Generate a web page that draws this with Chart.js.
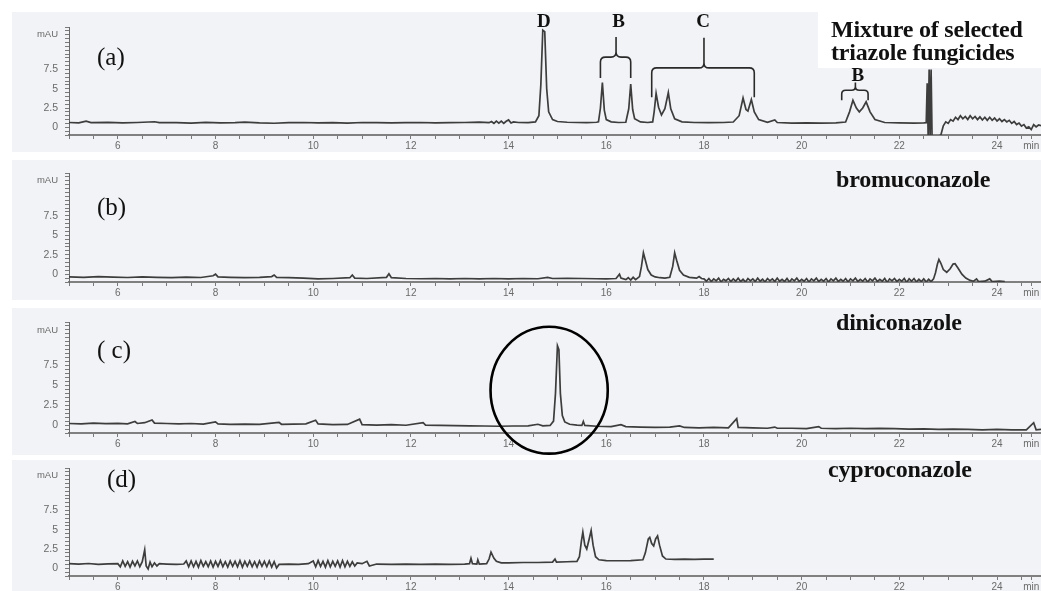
<!DOCTYPE html>
<html>
<head>
<meta charset="utf-8">
<script src="https://cdn.jsdelivr.net/npm/chart.js@4.4.1/dist/chart.umd.min.js"></script>
<style>
  html, body { margin: 0; padding: 0; }
  body { width: 1041px; height: 591px; overflow: hidden; background: #ffffff; position: relative; }
  .bg { position: absolute; background: #f2f3f6; }
  .wrap { position: absolute; left: 0; width: 1041px; }
  .wrap canvas { display: block; }
  .tag { position: absolute; font-family: "Liberation Serif", "DejaVu Serif", serif; color: #111; white-space: nowrap; }
  .panel-id { font-size: 25px; line-height: 25px; }
  .compound { font-size: 24px; line-height: 24px; font-weight: bold; letter-spacing: -0.2px; }
</style>
</head>
<body>
<!-- panel backgrounds -->
<div class="bg" style="left:12px;top:12px;width:1029px;height:140px"></div>
<div class="bg" style="left:12px;top:160px;width:1029px;height:140px"></div>
<div class="bg" style="left:12px;top:308px;width:1029px;height:147px"></div>
<div class="bg" style="left:12px;top:460px;width:1029px;height:131px"></div>
<div style="position:absolute;left:818px;top:0;width:223px;height:68px;background:#ffffff"></div>

<div class="wrap" style="top:0;height:157px"><canvas id="chartA" width="1041" height="157"></canvas></div>
<div class="wrap" style="top:146px;height:158px"><canvas id="chartB" width="1041" height="158"></canvas></div>
<div class="wrap" style="top:295px;height:160px"><canvas id="chartC" width="1041" height="160"></canvas></div>
<div class="wrap" style="top:441px;height:157px"><canvas id="chartD" width="1041" height="157"></canvas></div>

<div class="tag panel-id" style="left:97px;top:44px">(a)</div>
<div class="tag panel-id" style="left:97px;top:194px">(b)</div>
<div class="tag panel-id" style="left:97px;top:337px">( c)</div>
<div class="tag panel-id" style="left:107px;top:466px">(d)</div>

<div class="tag compound" style="left:831px;top:17px">Mixture of selected</div>
<div class="tag compound" style="left:831px;top:40px">triazole fungicides</div>
<div class="tag compound" style="left:836px;top:167px">bromuconazole</div>
<div class="tag compound" style="left:836px;top:310px">diniconazole</div>
<div class="tag compound" style="left:828px;top:457px">cyproconazole</div>

<script>
// Retention time (min) and absorbance (mAU) pairs for each chromatogram
const traceMixture = [
  [5.0,0.62],[5.2,0.58],[5.35,0.8],[5.45,0.6],[5.8,0.63],[6.1,0.57],[6.4,0.62],[6.75,0.72],[6.85,0.6],
  [7.2,0.6],[7.5,0.55],[7.8,0.63],[8.1,0.58],[8.4,0.6],[8.6,0.68],[8.9,0.56],[9.2,0.52],[9.5,0.6],
  [9.8,0.62],[10.1,0.58],[10.4,0.6],[10.7,0.55],[11.0,0.62],[11.3,0.6],[11.6,0.56],[11.9,0.6],
  [12.2,0.62],[12.5,0.58],[12.8,0.6],[13.1,0.62],[13.4,0.66],[13.6,0.6],[13.65,0.75],[13.7,0.5],
  [13.75,0.8],[13.8,0.55],[13.85,0.8],[13.9,0.5],[13.95,0.78],[14.0,0.95],[14.05,0.55],[14.1,0.7],
  [14.2,0.62],[14.4,0.6],
  [14.55,0.7],[14.62,1.5],[14.66,5.5],[14.7,12.6],[14.74,12.4],[14.78,5.0],[14.82,2.0],[14.9,1.0],
  [15.0,0.75],[15.2,0.65],[15.4,0.62],[15.6,0.6],[15.8,0.65],
  [15.84,0.7],[15.88,2.5],[15.92,5.8],[15.96,2.2],[16.0,1.0],[16.1,0.7],[16.25,0.62],[16.4,0.65],
  [16.46,2.4],[16.5,5.6],[16.54,2.3],[16.58,1.1],[16.7,0.7],[16.85,0.62],[16.95,0.7],
  [16.98,2.0],[17.02,4.4],[17.07,2.6],[17.13,1.6],[17.2,2.4],[17.27,4.5],[17.32,2.4],[17.4,1.1],
  [17.55,0.7],[17.8,0.62],[18.1,0.6],[18.4,0.62],[18.6,0.68],
  [18.72,1.5],[18.8,3.8],[18.86,2.3],[18.9,2.1],[18.97,3.6],[19.03,2.0],[19.12,1.0],[19.3,0.65],
  [19.45,0.95],[19.5,0.62],[19.8,0.55],[20.1,0.58],[20.4,0.55],[20.7,0.58],[20.9,0.68],
  [20.98,2.0],[21.05,3.5],[21.12,2.5],[21.18,2.0],[21.25,2.5],[21.32,3.3],[21.4,2.0],[21.5,1.0],
  [21.7,0.62],[22.0,0.58],[22.3,0.55],[22.5,0.58],
  [22.55,0.6],[22.57,5.7],[22.59,-1.3],[22.61,7.5],[22.63,-1.3],[22.65,7.5],[22.67,-1.3],
  [22.75,-1.3],[22.85,-1.0],
  [22.9,0.2],[22.95,0.7],[23.0,0.5],[23.05,1.0],[23.1,0.8],[23.15,1.3],[23.2,1.0],[23.25,1.5],
  [23.3,1.1],[23.35,1.4],[23.4,1.0],[23.45,1.5],[23.5,1.1],[23.55,1.4],[23.6,1.0],[23.65,1.35],
  [23.7,0.95],[23.75,1.3],[23.8,0.9],[23.85,1.3],[23.9,0.9],[23.95,1.2],[24.0,0.8],[24.05,1.1],
  [24.1,0.75],[24.15,1.0],[24.2,0.7],[24.25,0.9],[24.3,0.5],[24.35,0.75],[24.4,0.35],[24.45,0.55],
  [24.5,0.15],[24.55,0.35],[24.6,-0.1],[24.65,0.05],[24.7,-0.3],[24.75,0.35],[24.8,0.05],
  [24.85,0.3],[24.9,0.2]
];

const traceBromuconazole = [
  [5.0,-0.35],[5.3,-0.4],[5.6,-0.3],[5.9,-0.38],[6.2,-0.42],[6.5,-0.35],[6.8,-0.4],[7.1,-0.45],
  [7.4,-0.38],[7.7,-0.42],[7.95,-0.2],[8.0,0.0],[8.05,-0.35],[8.3,-0.4],[8.6,-0.45],[8.9,-0.4],
  [9.15,-0.3],[9.2,-0.1],[9.25,-0.4],[9.5,-0.45],[9.8,-0.5],[10.1,-0.6],[10.4,-0.55],[10.75,-0.45],
  [10.8,-0.1],[10.85,-0.5],[11.1,-0.55],[11.5,-0.4],[11.55,0.05],[11.6,-0.45],[11.9,-0.55],
  [12.2,-0.58],[12.5,-0.55],[12.8,-0.6],[13.1,-0.55],[13.4,-0.6],[13.7,-0.55],[14.0,-0.6],
  [14.3,-0.55],[14.6,-0.58],[14.8,-0.4],[14.9,-0.55],[15.2,-0.52],[15.5,-0.55],[15.8,-0.58],
  [16.0,-0.6],[16.2,-0.55],[16.27,0.0],[16.3,-0.5],[16.4,-0.7],[16.45,-0.45],[16.5,-0.75],
  [16.55,-0.4],[16.6,-0.7],
  [16.68,-0.3],[16.72,1.0],[16.76,2.75],[16.8,1.8],[16.85,0.6],[16.92,-0.1],[17.0,-0.35],
  [17.1,-0.45],[17.2,-0.5],[17.3,-0.4],
  [17.36,1.0],[17.4,2.75],[17.44,1.8],[17.5,0.5],[17.58,-0.1],[17.7,-0.4],[17.85,-0.5],
  [17.9,-0.3],[17.95,-0.55],
  [18.0,-0.6],[18.05,-0.9],[18.1,-0.55],[18.15,-0.95],[18.2,-0.6],[18.25,-0.85],[18.3,-0.5],
  [18.35,-1.0],[18.4,-0.65],[18.45,-0.85],[18.5,-0.55],[18.55,-0.95],[18.6,-0.6],[18.65,-0.9],
  [18.7,-0.5],[18.75,-0.95],[18.8,-0.65],[18.85,-1.0],[18.9,-0.55],[18.95,-0.85],[19.0,-0.6],
  [19.05,-0.95],[19.1,-0.5],[19.15,-0.9],[19.2,-0.65],[19.25,-1.0],[19.3,-0.55],[19.35,-0.85],
  [19.4,-0.6],[19.45,-0.95],[19.5,-0.5],[19.55,-0.9],[19.6,-0.65],[19.65,-0.95],[19.7,-0.55],
  [19.75,-1.0],[19.8,-0.6],[19.85,-0.85],[19.9,-0.5],[19.95,-0.95],[20.0,-0.65],[20.05,-0.9],
  [20.1,-0.55],[20.15,-1.0],[20.2,-0.6],[20.25,-0.85],[20.3,-0.5],[20.35,-0.95],[20.4,-0.65],
  [20.45,-0.9],[20.5,-0.55],[20.55,-1.0],[20.6,-0.6],[20.65,-0.85],[20.7,-0.5],[20.75,-0.95],
  [20.8,-0.65],[20.85,-0.9],[20.9,-0.55],[20.95,-1.0],[21.0,-0.6],[21.05,-0.85],[21.1,-0.5],
  [21.15,-0.95],[21.2,-0.65],[21.25,-0.9],[21.3,-0.55],[21.35,-1.0],[21.4,-0.6],[21.45,-0.85],
  [21.5,-0.5],[21.55,-0.95],[21.6,-0.65],[21.65,-0.9],[21.7,-0.55],[21.75,-1.05],[21.8,-0.6],
  [21.85,-0.85],[21.9,-0.55],[21.95,-0.95],[22.0,-0.65],[22.05,-0.9],[22.1,-0.55],[22.15,-1.05],
  [22.2,-0.6],[22.25,-0.9],[22.3,-0.55],[22.35,-1.0],[22.4,-0.65],[22.45,-0.95],[22.5,-0.6],
  [22.55,-1.0],[22.6,-0.65],[22.65,-0.95],[22.7,-0.6],
  [22.74,0.2],[22.78,1.3],[22.81,1.9],[22.85,1.4],[22.9,0.6],[22.97,0.25],[23.04,0.7],
  [23.1,1.3],[23.14,1.34],[23.2,0.8],[23.28,0.0],[23.36,-0.5],[23.45,-0.8],[23.52,-0.9],
  [23.58,-0.6],[23.62,-0.95],[23.75,-0.9],[23.85,-0.6],[23.9,-0.95],[24.05,-0.9],[24.16,-0.95]
];

const traceDiniconazole = [
  [5.0,0.2],[5.25,0.15],[5.5,0.25],[5.75,0.18],[6.0,0.22],[6.2,0.15],[6.35,0.45],[6.4,0.2],
  [6.55,0.3],[6.7,0.65],[6.75,0.25],[7.0,0.2],[7.25,0.15],[7.5,0.2],[7.75,0.12],[8.0,0.4],
  [8.05,0.15],[8.3,0.1],[8.6,0.12],[8.9,0.08],[9.3,0.35],[9.35,0.1],[9.6,0.12],[9.85,0.15],
  [10.05,0.6],[10.1,0.15],[10.4,0.05],[10.7,0.08],[10.95,0.75],[11.0,0.05],[11.3,0.0],
  [11.6,0.05],[11.9,-0.02],[12.25,0.3],[12.3,0.0],[12.6,-0.05],[12.9,-0.08],[13.2,-0.1],
  [13.5,-0.12],[13.8,-0.15],[14.1,-0.12],[14.4,-0.1],[14.6,0.1],[14.7,-0.1],[14.85,-0.05],
  [14.92,0.5],[14.96,4.0],[15.0,10.0],[15.03,9.5],[15.06,4.0],[15.1,1.2],[15.15,0.4],[15.25,0.1],
  [15.4,0.0],[15.5,-0.05],[15.53,0.45],[15.56,-0.05],[15.8,-0.15],[16.1,-0.2],[16.3,0.05],
  [16.4,-0.2],[16.7,-0.25],[17.0,-0.3],[17.3,-0.25],[17.5,-0.1],[17.6,-0.3],[17.9,-0.35],
  [18.2,-0.3],[18.5,-0.35],[18.67,0.8],[18.7,-0.3],[19.0,-0.35],[19.3,-0.4],[19.45,-0.25],
  [19.5,-0.4],[19.8,-0.4],[20.1,-0.45],[20.35,-0.2],[20.4,-0.4],[20.7,-0.45],[21.0,-0.4],
  [21.3,-0.45],[21.6,-0.42],[21.9,-0.45],[22.2,-0.5],[22.5,-0.48],[22.8,-0.55],[23.1,-0.5],
  [23.4,-0.55],[23.7,-0.6],[24.0,-0.55],[24.3,-0.6],[24.6,-0.6],[24.75,0.3],[24.8,-0.6],[24.9,-0.55]
];

const traceCyproconazole = [
  [5.0,0.6],[5.2,0.55],[5.4,0.62],[5.6,0.5],[5.8,0.58],[6.0,0.6],[6.05,0.2],[6.1,0.95],[6.15,0.25],
  [6.2,0.85],[6.25,0.15],[6.3,0.9],[6.35,0.3],[6.4,0.95],[6.45,0.2],[6.5,0.85],[6.55,2.4],
  [6.58,0.3],[6.62,-0.1],[6.66,0.8],[6.7,0.2],[6.75,0.7],[6.8,0.3],[6.85,0.6],[7.0,0.55],
  [7.2,0.5],[7.35,0.55],[7.4,0.95],[7.45,0.2],[7.5,0.95],[7.55,0.2],[7.6,0.9],[7.65,0.15],[7.7,1.0],[7.75,0.25],
  [7.8,0.85],[7.85,0.2],[7.9,0.95],[7.95,0.15],[8.0,0.9],[8.05,0.25],[8.1,1.0],[8.15,0.2],
  [8.2,0.85],[8.25,0.15],[8.3,0.95],[8.35,0.25],[8.4,0.9],[8.45,0.2],[8.5,1.0],[8.55,0.15],
  [8.6,0.9],[8.65,0.25],[8.7,0.95],[8.75,0.2],[8.8,0.85],[8.85,0.15],[8.9,0.95],[8.95,0.25],
  [9.0,0.9],[9.05,0.2],[9.1,0.95],[9.15,0.15],[9.2,0.85],[9.25,0.05],[9.3,0.5],[9.5,0.55],
  [9.7,0.5],[9.9,0.6],[10.0,0.95],[10.05,0.2],[10.1,1.0],[10.15,0.25],[10.2,0.9],[10.25,0.15],
  [10.3,1.0],[10.35,0.2],[10.4,0.9],[10.45,0.25],[10.5,0.95],[10.55,0.15],[10.6,1.0],[10.65,0.2],
  [10.7,0.9],[10.75,0.25],[10.8,0.85],[10.85,0.3],[10.9,0.7],[11.0,0.6],[11.1,0.9],[11.15,0.3],
  [11.3,0.55],[11.6,0.5],[11.9,0.55],[12.2,0.5],[12.5,0.55],[12.8,0.5],[13.1,0.55],[13.2,0.6],
  [13.23,1.3],[13.26,0.6],[13.35,0.55],[13.37,1.1],[13.4,0.55],[13.55,0.6],[13.6,1.2],[13.64,2.1],
  [13.7,1.3],[13.75,0.9],[13.85,0.7],[14.0,0.7],[14.3,0.75],[14.6,0.75],[14.9,0.8],[14.95,1.2],
  [14.98,0.8],[15.2,0.85],[15.4,0.9],
  [15.45,1.5],[15.49,3.5],[15.52,4.7],[15.56,3.0],[15.6,2.5],[15.65,3.8],[15.69,4.9],[15.73,3.0],
  [15.78,1.5],[15.85,1.1],[16.0,1.0],[16.2,0.98],[16.5,1.0],[16.75,1.1],
  [16.8,2.0],[16.86,3.8],[16.89,4.0],[16.93,3.2],[16.97,2.9],[17.01,3.8],[17.05,4.2],[17.09,3.0],
  [17.15,1.6],[17.22,1.2],[17.4,1.15],[17.6,1.2],[17.8,1.15],[18.0,1.2],[18.2,1.2]
];

// Axis labels
const xTickValues = [6, 8, 10, 12, 14, 16, 18, 20, 22, 24, 24.7];
const xTickLabels = ['6', '8', '10', '12', '14', '16', '18', '20', '22', '24', 'min'];
const yTickValues = [0, 2.5, 5, 7.5, 12];
const yTickLabels = ['0', '2.5', '5', '7.5', 'mAU'];

// Peak-group brackets and letters over the mixture trace
const mixtureBraces = [
  { from: 15.88, to: 16.5, tip: 16.2, arm: 6.4, bar: 9.1, top: 11.7 },
  { from: 16.93, to: 19.03, tip: 18.0, arm: 3.9, bar: 7.7, top: 11.6 },
  { from: 20.82, to: 21.36, tip: 21.1, arm: 3.5, bar: 4.8, top: 5.8 }
];
const mixtureLetters = [
  { text: 'D', t: 14.72, v: 13.6 },
  { text: 'B', t: 16.25, v: 13.6 },
  { text: 'C', t: 17.98, v: 13.6 },
  { text: 'B', t: 21.15, v: 6.6 }
];

const markupPlugin = {
  id: 'markup',
  afterDatasetsDraw(chart, args, opts) {
    const { ctx } = chart;
    const x = chart.scales.x, y = chart.scales.y;
    ctx.save();
    ctx.strokeStyle = '#2a2a2a';
    ctx.lineWidth = 1.6;
    (opts.braces || []).forEach(b => {
      const x1 = x.getPixelForValue(b.from), x2 = x.getPixelForValue(b.to), xm = x.getPixelForValue(b.tip);
      const ya = y.getPixelForValue(b.arm), yb = y.getPixelForValue(b.bar), yt = y.getPixelForValue(b.top);
      const r = Math.min(5, (yb - yt) / 2);
      ctx.beginPath();
      ctx.moveTo(x1, ya);
      ctx.lineTo(x1, yb + r);
      ctx.quadraticCurveTo(x1, yb, x1 + r, yb);
      ctx.lineTo(xm - r, yb);
      ctx.quadraticCurveTo(xm, yb, xm, yb - r);
      ctx.lineTo(xm, yt);
      ctx.moveTo(xm, yb - r);
      ctx.quadraticCurveTo(xm, yb, xm + r, yb);
      ctx.lineTo(x2 - r, yb);
      ctx.quadraticCurveTo(x2, yb, x2, yb + r);
      ctx.lineTo(x2, ya);
      ctx.stroke();
    });
    ctx.fillStyle = '#111';
    ctx.font = 'bold 19px "Liberation Serif", serif';
    ctx.textAlign = 'center';
    ctx.textBaseline = 'middle';
    (opts.letters || []).forEach(l => {
      ctx.fillText(l.text, x.getPixelForValue(l.t), y.getPixelForValue(l.v));
    });
    if (opts.ring) {
      const cx = x.getPixelForValue(opts.ring.t), cy = y.getPixelForValue(opts.ring.v);
      const rx = Math.abs(x.getPixelForValue(opts.ring.t + opts.ring.dt) - cx);
      const ry = Math.abs(y.getPixelForValue(opts.ring.v + opts.ring.dv) - cy);
      ctx.strokeStyle = '#000';
      ctx.lineWidth = 2.6;
      ctx.beginPath();
      ctx.ellipse(cx, cy, rx, ry, 0, 0, Math.PI * 2);
      ctx.stroke();
    }
    ctx.restore();
  }
};

function buildChart(id, trace, markup) {
  return new Chart(document.getElementById(id), {
    type: 'line',
    data: {
      datasets: [{
        data: trace.map(p => ({ x: p[0], y: p[1] })),
        borderColor: '#3d3d3d',
        borderWidth: 1.7,
        pointRadius: 0,
        tension: 0,
        fill: false
      }]
    },
    options: {
      responsive: false,
      animation: false,
      events: [],
      layout: { padding: { top: 27, left: 0, right: 0, bottom: 0 } },
      plugins: { legend: { display: false }, tooltip: { enabled: false }, markup: markup || {} },
      scales: {
        x: {
          type: 'linear', min: 5, max: 24.9,
          afterBuildTicks: ax => {
            const t = [];
            for (let v = 5; v <= 24.5; v += 0.5) t.push({ value: v });
            t.push({ value: 24.7 });
            ax.ticks = t;
          },
          ticks: {
            autoSkip: false, maxRotation: 0, padding: 1,
            color: '#6a6a6a', font: { family: 'Liberation Sans, Arial, sans-serif', size: 10 },
            callback: v => { const i = xTickValues.indexOf(v); return i >= 0 ? xTickLabels[i] : ''; }
          },
          grid: { drawOnChartArea: false, tickLength: 4, color: '#7a7a7a' },
          border: { color: '#808080', width: 2 },
          afterFit: ax => { ax.height = 22; }
        },
        y: {
          type: 'linear', min: -1, max: 13,
          afterBuildTicks: ax => {
            const t = [];
            for (let v = -1; v <= 13; v += 0.5) t.push({ value: v });
            ax.ticks = t;
          },
          ticks: {
            autoSkip: false, padding: 7, color: '#6a6a6a',
            font: c => ({ family: 'Liberation Sans, Arial, sans-serif', size: c.tick && c.tick.value === 12 ? 9.5 : 10.5 }),
            callback: v => { const i = yTickValues.indexOf(v); return i >= 0 ? yTickLabels[i] : ''; }
          },
          grid: { drawOnChartArea: false, tickLength: 4, color: '#7a7a7a' },
          border: { color: '#6a6a6a', width: 1 },
          afterFit: ax => { ax.width = 69; }
        }
      }
    },
    plugins: [markupPlugin]
  });
}

buildChart('chartA', traceMixture, { braces: mixtureBraces, letters: mixtureLetters });
buildChart('chartB', traceBromuconazole);
buildChart('chartC', traceDiniconazole, { ring: { t: 14.83, v: 4.4, dt: 1.2, dv: 8.0 } });
buildChart('chartD', traceCyproconazole);
</script>
</body>
</html>
